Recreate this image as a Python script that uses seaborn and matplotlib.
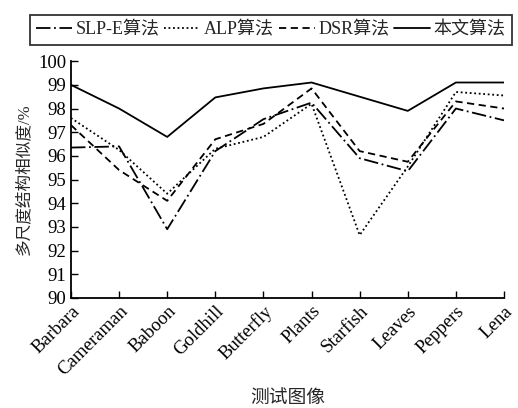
import numpy as np
import pandas as pd
import matplotlib
matplotlib.use("Agg")
from matplotlib import pyplot as plt
import seaborn as sns

# data
images = ['Barbara', 'Cameraman', 'Baboon', 'Goldhill', 'Butterfly',
          'Plants', 'Starfish', 'Leaves', 'Peppers', 'Lena']
slp_e = [96.35, 96.4, 92.9, 96.2, 97.55, 98.25, 95.9, 95.35, 98.0, 97.5]
alp = [97.6, 96.25, 94.4, 96.3, 96.8, 98.2, 92.65, 95.55, 98.7, 98.55]
dsr = [97.3, 95.4, 94.1, 96.7, 97.35, 98.85, 96.2, 95.75, 98.3, 98.0]
ours = [99.0, 98.0, 96.8, 98.47, 98.85, 99.1, 98.5, 97.9, 99.1, 99.1]

names = ['SLP-E算法', 'ALP算法', 'DSR算法', '本文算法']
styles = [(0, (8, 2, 1, 2)), (0, (1, 1.5)), (0, (4, 2.5)), '-']

sns.set_style("ticks")
plt.rcParams['font.family'] = ['Liberation Serif', 'Noto Sans CJK SC']
plt.rcParams['axes.unicode_minus'] = False

fig = plt.figure(figsize=(5.18, 4.08), dpi=100)
ax = fig.add_axes([0.137, 0.27, 0.836, 0.58])

x = np.arange(len(images))
for vals, name, ls in zip([slp_e, alp, dsr, ours], names, styles):
    sns.lineplot(x=x, y=vals, ax=ax, color='black', linestyle=ls,
                 linewidth=1.3, label=name)

ax.set_xlim(0, len(images) - 1)
ax.set_ylim(90, 100)
ax.set_yticks(np.arange(90, 101, 1))
ax.set_xticks(x)
ax.set_xticklabels(images, rotation=45, ha='right', rotation_mode='anchor')
ax.tick_params(direction='in', length=5, width=1, labelsize=13.5, colors='black')
for s in ['top', 'right']:
    ax.spines[s].set_visible(False)
for s in ['left', 'bottom']:
    ax.spines[s].set_linewidth(1.3)
    ax.spines[s].set_color('black')

ax.set_ylabel('多尺度结构相似度/%', fontsize=12, labelpad=4)
ax.set_xlabel('测试图像', fontsize=13.5, labelpad=8)

ax.get_legend().remove()
handles, labels = ax.get_legend_handles_labels()
leg = fig.legend(handles, labels, loc='upper left', bbox_to_anchor=(0.04, 0.985),
                 ncol=4, frameon=True, fancybox=False, fontsize=13,
                 handlelength=2.0, handletextpad=0.2, columnspacing=0.25,
                 borderpad=0.35)
leg.get_frame().set_edgecolor('black')
leg.get_frame().set_linewidth(1.3)

fig.savefig('out.png', dpi=100)
